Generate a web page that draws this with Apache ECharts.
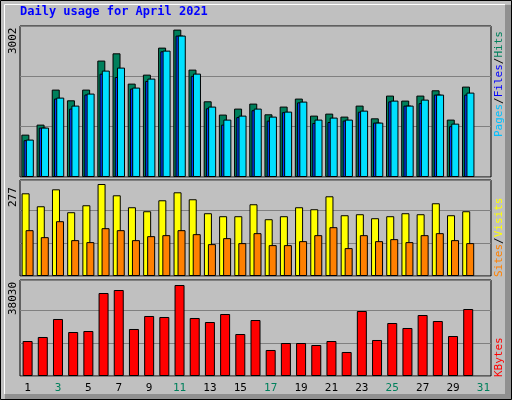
<!DOCTYPE html>
<html>
<head>
<meta charset="UTF-8">
<script src="https://cdn.jsdelivr.net/npm/echarts@6/dist/echarts.min.js"></script>
<style>
  html, body { margin: 0; padding: 0; background: #c0c0c0; }
  #chart { width: 512px; height: 400px; }
</style>
</head>
<body>
<div id="chart"></div>
<script>
var days = [];
for (var d = 1; d <= 31; d++) days.push(String(d));
var weekend = [3, 4, 10, 11, 17, 18, 24, 25, 31];

var hits   = [863,1067,1780,1562,1780,2371,2519,1902,2085,2635,3002,2187,1542,1271,1393,1495,1277,1434,1597,1250,1291,1230,1454,1195,1658,1556,1658,1766,1169,1841,null];
var files  = [750,1006,1597,1393,1680,2104,2037,1800,1956,2560,2880,2060,1400,1067,1220,1360,1148,1320,1520,1100,1120,1150,1330,1108,1540,1454,1505,1678,1035,1678,null];
var pages  = [762,1006,1617,1454,1699,2167,2228,1821,2004,2574,2880,2106,1434,1169,1250,1393,1230,1332,1536,1169,1210,1169,1352,1108,1556,1454,1576,1678,1087,1719,null];
var visits = [249,210,261,192,213,277,243,207,195,228,252,231,189,180,180,216,171,180,207,201,240,183,186,174,180,189,186,219,183,195,null];
var sites  = [138,117,165,108,102,144,138,108,120,123,138,126,96,114,99,129,93,93,105,123,147,84,123,105,111,102,123,129,108,99,null];
var kbytes = [14626,16299,23821,18388,18806,34686,35940,19642,25075,24657,38030,24239,22567,25910,17552,23403,10866,13791,13791,12955,14626,10030,27164,15045,22149,20060,25492,22985,16716,28000,null];

var maxHits = Math.max.apply(null, hits.filter(function (v) { return v != null; }));
var maxVisits = Math.max.apply(null, visits.filter(function (v) { return v != null; }));
var maxKb = Math.max.apply(null, kbytes.filter(function (v) { return v != null; }));

var font = 'DejaVu Sans Mono';
var chart = echarts.init(document.getElementById('chart'));

function xAxisFor(i, showLabels) {
  return {
    type: 'category', gridIndex: i, data: days,
    axisLine: { show: false }, axisTick: { show: false },
    axisLabel: {
      show: showLabels, margin: 7, fontFamily: font, fontSize: 11,
      color: function (v) { return weekend.indexOf(+v) >= 0 ? '#00805c' : '#000'; }
    }
  };
}
function yAxisFor(i, max, interval) {
  return {
    type: 'value', gridIndex: i, min: 0, max: max, interval: interval,
    axisLabel: { show: false }, axisLine: { show: false }, axisTick: { show: false },
    splitLine: { lineStyle: { color: '#808080', width: 1 } }
  };
}
var bs = { borderColor: '#000', borderWidth: 1 };

chart.setOption({
  animation: false,
  backgroundColor: '#c0c0c0',
  grid: [
    { left: 20, right: 21, top: 26, height: 151, show: true, borderColor: '#000', borderWidth: 1, backgroundColor: '#c0c0c0' },
    { left: 20, right: 21, top: 180, height: 96, show: true, borderColor: '#000', borderWidth: 1, backgroundColor: '#c0c0c0' },
    { left: 20, right: 21, top: 280, height: 96, show: true, borderColor: '#000', borderWidth: 1, backgroundColor: '#c0c0c0' }
  ],
  xAxis: [xAxisFor(0, false), xAxisFor(1, false), xAxisFor(2, true)],
  yAxis: [
    yAxisFor(0, maxHits * 151 / 147.4, maxHits * 50.5 / 147.4),
    yAxisFor(1, maxVisits * 96 / 92, maxVisits * 33 / 92),
    yAxisFor(2, maxKb * 96 / 91, maxKb * 33 / 91)
  ],
  series: [
    { type: 'bar', name: 'Hits', data: hits, xAxisIndex: 0, yAxisIndex: 0, barWidth: 8, barGap: '-72%', itemStyle: Object.assign({ color: '#00805c' }, bs) },
    { type: 'bar', name: 'Files', data: files, xAxisIndex: 0, yAxisIndex: 0, barWidth: 8, barGap: '-72%', itemStyle: Object.assign({ color: '#0040ff' }, bs) },
    { type: 'bar', name: 'Pages', data: pages, xAxisIndex: 0, yAxisIndex: 0, barWidth: 8, barGap: '-72%', itemStyle: Object.assign({ color: '#00e0ff' }, bs) },
    { type: 'bar', name: 'Visits', data: visits, xAxisIndex: 1, yAxisIndex: 1, barWidth: 8, barGap: '-50%', itemStyle: Object.assign({ color: '#ffff00' }, bs) },
    { type: 'bar', name: 'Sites', data: sites, xAxisIndex: 1, yAxisIndex: 1, barWidth: 8, barGap: '-50%', itemStyle: Object.assign({ color: '#ff8000' }, bs) },
    { type: 'bar', name: 'KBytes', data: kbytes, xAxisIndex: 2, yAxisIndex: 2, barWidth: 10, itemStyle: Object.assign({ color: '#ff0000' }, bs) }
  ],
  graphic: [
    { type: 'rect', z: -10, shape: { x: 505, y: 5, width: 6, height: 395 }, style: { fill: '#909090' } },
    { type: 'rect', z: -10, shape: { x: 5, y: 394, width: 506, height: 6 }, style: { fill: '#909090' } },
    { type: 'rect', z: -9, shape: { x: 0.5, y: 0.5, width: 511, height: 399 }, style: { fill: 'none', stroke: '#000', lineWidth: 1 } },
    { type: 'polyline', z: -9, shape: { points: [[4.5, 394], [4.5, 4.5], [505, 4.5]] }, style: { stroke: '#fff', lineWidth: 1, fill: 'none' } },
    { type: 'text', left: 20, top: 6, style: { text: 'Daily usage for April 2021', fill: '#0000ff', font: 'bold 12px "DejaVu Sans Mono"' } },
    { type: 'text', x: 8, y: 54, rotation: Math.PI / 2, style: { text: String(maxHits), fill: '#000', font: '11px "DejaVu Sans Mono"' } },
    { type: 'text', x: 8, y: 207, rotation: Math.PI / 2, style: { text: String(maxVisits), fill: '#000', font: '11px "DejaVu Sans Mono"' } },
    { type: 'text', x: 8, y: 315, rotation: Math.PI / 2, style: { text: String(maxKb), fill: '#000', font: '11px "DejaVu Sans Mono"' } },
    { type: 'text', x: 494, y: 137, rotation: Math.PI / 2, style: {
      text: '{p|Pages}{s|/}{f|Files}{s|/}{h|Hits}', font: '11px "DejaVu Sans Mono"',
      rich: { p: { fill: '#00c0ff' }, f: { fill: '#0000ff' }, h: { fill: '#00805c' }, s: { fill: '#000' } } } },
    { type: 'text', x: 494, y: 277, rotation: Math.PI / 2, style: {
      text: '{o|Sites}{s|/}{y|Visits}', font: '11px "DejaVu Sans Mono"',
      rich: { o: { fill: '#ff8000' }, y: { fill: '#ffff00' }, s: { fill: '#000' } } } },
    { type: 'text', x: 494, y: 377, rotation: Math.PI / 2, style: { text: 'KBytes', fill: '#ff0000', font: '11px "DejaVu Sans Mono"' } }
  ]
});
</script>
</body>
</html>
